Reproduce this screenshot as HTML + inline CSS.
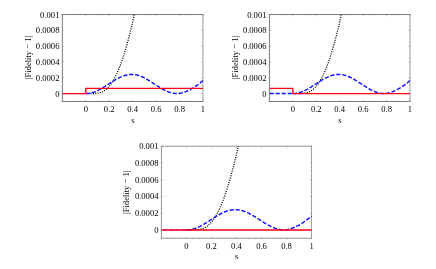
<!DOCTYPE html>
<html><head><meta charset="utf-8"><style>
html,body{margin:0;padding:0;background:#fff;overflow:hidden;}
svg{display:block;}
text{font-family:"Liberation Serif",serif;fill:#000;}
.tx{filter:blur(0.3px);}
.cv{filter:blur(0.3px);}
</style></head><body>
<svg width="436" height="269" viewBox="0 0 436 269">
<rect width="436" height="269" fill="#fff"/>
<g class="fr">
<g style="filter:blur(0.25px)">
<path d="M61.85 14.5 H203.5 M61.85 101.5 H203.5 M62.35 14.5 V101.5" stroke="#7c7c7c" stroke-width="1" fill="none"/>
<path d="M203.0 14.5 V101.5" stroke="#a0a0a0" stroke-width="1" fill="none"/>
<path d="M62.35 101.5 v-1.7 M62.35 14.5 v1.7 M85.79 101.5 v-1.7 M85.79 14.5 v1.7 M109.23 101.5 v-1.7 M109.23 14.5 v1.7 M132.68 101.5 v-1.7 M132.68 14.5 v1.7 M156.12 101.5 v-1.7 M156.12 14.5 v1.7 M179.56 101.5 v-1.7 M179.56 14.5 v1.7 M203.00 101.5 v-1.7 M203.00 14.5 v1.7 M68.21 101.5 v-0.85 M68.21 14.5 v0.85 M74.07 101.5 v-0.85 M74.07 14.5 v0.85 M79.93 101.5 v-0.85 M79.93 14.5 v0.85 M91.65 101.5 v-0.85 M91.65 14.5 v0.85 M97.51 101.5 v-0.85 M97.51 14.5 v0.85 M103.37 101.5 v-0.85 M103.37 14.5 v0.85 M115.09 101.5 v-0.85 M115.09 14.5 v0.85 M120.95 101.5 v-0.85 M120.95 14.5 v0.85 M126.81 101.5 v-0.85 M126.81 14.5 v0.85 M138.54 101.5 v-0.85 M138.54 14.5 v0.85 M144.40 101.5 v-0.85 M144.40 14.5 v0.85 M150.26 101.5 v-0.85 M150.26 14.5 v0.85 M161.98 101.5 v-0.85 M161.98 14.5 v0.85 M167.84 101.5 v-0.85 M167.84 14.5 v0.85 M173.70 101.5 v-0.85 M173.70 14.5 v0.85 M185.42 101.5 v-0.85 M185.42 14.5 v0.85 M191.28 101.5 v-0.85 M191.28 14.5 v0.85 M197.14 101.5 v-0.85 M197.14 14.5 v0.85 M62.35 93.59 h1.7 M203.0 93.59 h-1.7 M62.35 77.77 h1.7 M203.0 77.77 h-1.7 M62.35 61.95 h1.7 M203.0 61.95 h-1.7 M62.35 46.14 h1.7 M203.0 46.14 h-1.7 M62.35 30.32 h1.7 M203.0 30.32 h-1.7 M62.35 14.50 h1.7 M203.0 14.50 h-1.7 M62.35 101.50 h0.85 M203.0 101.50 h-0.85 M62.35 97.55 h0.85 M203.0 97.55 h-0.85 M62.35 89.64 h0.85 M203.0 89.64 h-0.85 M62.35 85.68 h0.85 M203.0 85.68 h-0.85 M62.35 81.73 h0.85 M203.0 81.73 h-0.85 M62.35 73.82 h0.85 M203.0 73.82 h-0.85 M62.35 69.86 h0.85 M203.0 69.86 h-0.85 M62.35 65.91 h0.85 M203.0 65.91 h-0.85 M62.35 58.00 h0.85 M203.0 58.00 h-0.85 M62.35 54.05 h0.85 M203.0 54.05 h-0.85 M62.35 50.09 h0.85 M203.0 50.09 h-0.85 M62.35 42.18 h0.85 M203.0 42.18 h-0.85 M62.35 38.23 h0.85 M203.0 38.23 h-0.85 M62.35 34.27 h0.85 M203.0 34.27 h-0.85 M62.35 26.36 h0.85 M203.0 26.36 h-0.85 M62.35 22.41 h0.85 M203.0 22.41 h-0.85 M62.35 18.45 h0.85 M203.0 18.45 h-0.85" stroke="#7c7c7c" stroke-width="0.5" fill="none"/></g>
<g style="filter:blur(0.25px)">
<path d="M268.9 14.5 H410.5 M268.9 101.5 H410.5 M269.4 14.5 V101.5" stroke="#7c7c7c" stroke-width="1" fill="none"/>
<path d="M410.0 14.5 V101.5" stroke="#a0a0a0" stroke-width="1" fill="none"/>
<path d="M269.40 101.5 v-1.7 M269.40 14.5 v1.7 M292.83 101.5 v-1.7 M292.83 14.5 v1.7 M316.27 101.5 v-1.7 M316.27 14.5 v1.7 M339.70 101.5 v-1.7 M339.70 14.5 v1.7 M363.13 101.5 v-1.7 M363.13 14.5 v1.7 M386.57 101.5 v-1.7 M386.57 14.5 v1.7 M410.00 101.5 v-1.7 M410.00 14.5 v1.7 M275.26 101.5 v-0.85 M275.26 14.5 v0.85 M281.12 101.5 v-0.85 M281.12 14.5 v0.85 M286.97 101.5 v-0.85 M286.97 14.5 v0.85 M298.69 101.5 v-0.85 M298.69 14.5 v0.85 M304.55 101.5 v-0.85 M304.55 14.5 v0.85 M310.41 101.5 v-0.85 M310.41 14.5 v0.85 M322.12 101.5 v-0.85 M322.12 14.5 v0.85 M327.98 101.5 v-0.85 M327.98 14.5 v0.85 M333.84 101.5 v-0.85 M333.84 14.5 v0.85 M345.56 101.5 v-0.85 M345.56 14.5 v0.85 M351.42 101.5 v-0.85 M351.42 14.5 v0.85 M357.27 101.5 v-0.85 M357.27 14.5 v0.85 M368.99 101.5 v-0.85 M368.99 14.5 v0.85 M374.85 101.5 v-0.85 M374.85 14.5 v0.85 M380.71 101.5 v-0.85 M380.71 14.5 v0.85 M392.43 101.5 v-0.85 M392.43 14.5 v0.85 M398.28 101.5 v-0.85 M398.28 14.5 v0.85 M404.14 101.5 v-0.85 M404.14 14.5 v0.85 M269.4 93.59 h1.7 M410.0 93.59 h-1.7 M269.4 77.77 h1.7 M410.0 77.77 h-1.7 M269.4 61.95 h1.7 M410.0 61.95 h-1.7 M269.4 46.14 h1.7 M410.0 46.14 h-1.7 M269.4 30.32 h1.7 M410.0 30.32 h-1.7 M269.4 14.50 h1.7 M410.0 14.50 h-1.7 M269.4 101.50 h0.85 M410.0 101.50 h-0.85 M269.4 97.55 h0.85 M410.0 97.55 h-0.85 M269.4 89.64 h0.85 M410.0 89.64 h-0.85 M269.4 85.68 h0.85 M410.0 85.68 h-0.85 M269.4 81.73 h0.85 M410.0 81.73 h-0.85 M269.4 73.82 h0.85 M410.0 73.82 h-0.85 M269.4 69.86 h0.85 M410.0 69.86 h-0.85 M269.4 65.91 h0.85 M410.0 65.91 h-0.85 M269.4 58.00 h0.85 M410.0 58.00 h-0.85 M269.4 54.05 h0.85 M410.0 54.05 h-0.85 M269.4 50.09 h0.85 M410.0 50.09 h-0.85 M269.4 42.18 h0.85 M410.0 42.18 h-0.85 M269.4 38.23 h0.85 M410.0 38.23 h-0.85 M269.4 34.27 h0.85 M410.0 34.27 h-0.85 M269.4 26.36 h0.85 M410.0 26.36 h-0.85 M269.4 22.41 h0.85 M410.0 22.41 h-0.85 M269.4 18.45 h0.85 M410.0 18.45 h-0.85" stroke="#7c7c7c" stroke-width="0.5" fill="none"/></g>
<g style="filter:blur(0.35px)">
<path d="M160.9 146.2 H312.05 M160.9 238.3 H312.05 M161.4 146.2 V238.3" stroke="#989898" stroke-width="1" fill="none"/>
<path d="M311.55 146.2 V238.3" stroke="#a0a0a0" stroke-width="1" fill="none"/>
<path d="M161.40 238.3 v-1.7 M161.40 146.2 v1.7 M186.43 238.3 v-1.7 M186.43 146.2 v1.7 M211.45 238.3 v-1.7 M211.45 146.2 v1.7 M236.48 238.3 v-1.7 M236.48 146.2 v1.7 M261.50 238.3 v-1.7 M261.50 146.2 v1.7 M286.53 238.3 v-1.7 M286.53 146.2 v1.7 M311.55 238.3 v-1.7 M311.55 146.2 v1.7 M167.66 238.3 v-0.85 M167.66 146.2 v0.85 M173.91 238.3 v-0.85 M173.91 146.2 v0.85 M180.17 238.3 v-0.85 M180.17 146.2 v0.85 M192.68 238.3 v-0.85 M192.68 146.2 v0.85 M198.94 238.3 v-0.85 M198.94 146.2 v0.85 M205.19 238.3 v-0.85 M205.19 146.2 v0.85 M217.71 238.3 v-0.85 M217.71 146.2 v0.85 M223.96 238.3 v-0.85 M223.96 146.2 v0.85 M230.22 238.3 v-0.85 M230.22 146.2 v0.85 M242.73 238.3 v-0.85 M242.73 146.2 v0.85 M248.99 238.3 v-0.85 M248.99 146.2 v0.85 M255.24 238.3 v-0.85 M255.24 146.2 v0.85 M267.76 238.3 v-0.85 M267.76 146.2 v0.85 M274.01 238.3 v-0.85 M274.01 146.2 v0.85 M280.27 238.3 v-0.85 M280.27 146.2 v0.85 M292.78 238.3 v-0.85 M292.78 146.2 v0.85 M299.04 238.3 v-0.85 M299.04 146.2 v0.85 M305.29 238.3 v-0.85 M305.29 146.2 v0.85 M161.4 229.93 h1.7 M311.55 229.93 h-1.7 M161.4 213.18 h1.7 M311.55 213.18 h-1.7 M161.4 196.44 h1.7 M311.55 196.44 h-1.7 M161.4 179.69 h1.7 M311.55 179.69 h-1.7 M161.4 162.95 h1.7 M311.55 162.95 h-1.7 M161.4 146.20 h1.7 M311.55 146.20 h-1.7 M161.4 238.30 h0.85 M311.55 238.30 h-0.85 M161.4 234.11 h0.85 M311.55 234.11 h-0.85 M161.4 225.74 h0.85 M311.55 225.74 h-0.85 M161.4 221.55 h0.85 M311.55 221.55 h-0.85 M161.4 217.37 h0.85 M311.55 217.37 h-0.85 M161.4 209.00 h0.85 M311.55 209.00 h-0.85 M161.4 204.81 h0.85 M311.55 204.81 h-0.85 M161.4 200.62 h0.85 M311.55 200.62 h-0.85 M161.4 192.25 h0.85 M311.55 192.25 h-0.85 M161.4 188.06 h0.85 M311.55 188.06 h-0.85 M161.4 183.88 h0.85 M311.55 183.88 h-0.85 M161.4 175.50 h0.85 M311.55 175.50 h-0.85 M161.4 171.32 h0.85 M311.55 171.32 h-0.85 M161.4 167.13 h0.85 M311.55 167.13 h-0.85 M161.4 158.76 h0.85 M311.55 158.76 h-0.85 M161.4 154.57 h0.85 M311.55 154.57 h-0.85 M161.4 150.39 h0.85 M311.55 150.39 h-0.85" stroke="#7c7c7c" stroke-width="0.5" fill="none"/></g>
</g>
<g class="tx">
<text transform="translate(59.45 96.64) scale(0.935 1)" font-size="9.2" text-anchor="end">0</text>
<text transform="translate(59.45 80.82) scale(0.935 1)" font-size="9.2" text-anchor="end">0.0002</text>
<text transform="translate(59.45 65.00) scale(0.935 1)" font-size="9.2" text-anchor="end">0.0004</text>
<text transform="translate(59.45 49.19) scale(0.935 1)" font-size="9.2" text-anchor="end">0.0006</text>
<text transform="translate(59.45 33.37) scale(0.935 1)" font-size="9.2" text-anchor="end">0.0008</text>
<text transform="translate(59.45 17.55) scale(0.935 1)" font-size="9.2" text-anchor="end">0.001</text>
<text transform="translate(85.79 111.85) scale(0.935 1)" font-size="9.2" text-anchor="middle">0</text>
<text transform="translate(109.23 111.85) scale(0.935 1)" font-size="9.2" text-anchor="middle">0.2</text>
<text transform="translate(132.68 111.85) scale(0.935 1)" font-size="9.2" text-anchor="middle">0.4</text>
<text transform="translate(156.12 111.85) scale(0.935 1)" font-size="9.2" text-anchor="middle">0.6</text>
<text transform="translate(179.56 111.85) scale(0.935 1)" font-size="9.2" text-anchor="middle">0.8</text>
<text transform="translate(203.00 111.85) scale(0.935 1)" font-size="9.2" text-anchor="middle">1</text>
<text transform="translate(132.98 122.60) scale(0.935 1)" font-size="9.2" text-anchor="middle">s</text>
<text transform="translate(30.80 57.50) rotate(-90) scale(0.935 1)" font-size="9.2" text-anchor="middle">|Fidelity − 1|</text>
<text transform="translate(266.50 96.64) scale(0.935 1)" font-size="9.2" text-anchor="end">0</text>
<text transform="translate(266.50 80.82) scale(0.935 1)" font-size="9.2" text-anchor="end">0.0002</text>
<text transform="translate(266.50 65.00) scale(0.935 1)" font-size="9.2" text-anchor="end">0.0004</text>
<text transform="translate(266.50 49.19) scale(0.935 1)" font-size="9.2" text-anchor="end">0.0006</text>
<text transform="translate(266.50 33.37) scale(0.935 1)" font-size="9.2" text-anchor="end">0.0008</text>
<text transform="translate(266.50 17.55) scale(0.935 1)" font-size="9.2" text-anchor="end">0.001</text>
<text transform="translate(292.83 111.85) scale(0.935 1)" font-size="9.2" text-anchor="middle">0</text>
<text transform="translate(316.27 111.85) scale(0.935 1)" font-size="9.2" text-anchor="middle">0.2</text>
<text transform="translate(339.70 111.85) scale(0.935 1)" font-size="9.2" text-anchor="middle">0.4</text>
<text transform="translate(363.13 111.85) scale(0.935 1)" font-size="9.2" text-anchor="middle">0.6</text>
<text transform="translate(386.57 111.85) scale(0.935 1)" font-size="9.2" text-anchor="middle">0.8</text>
<text transform="translate(410.00 111.85) scale(0.935 1)" font-size="9.2" text-anchor="middle">1</text>
<text transform="translate(340.00 122.60) scale(0.935 1)" font-size="9.2" text-anchor="middle">s</text>
<text transform="translate(237.80 57.50) rotate(-90) scale(0.935 1)" font-size="9.2" text-anchor="middle">|Fidelity − 1|</text>
<text transform="translate(158.50 232.98) scale(0.935 1)" font-size="9.2" text-anchor="end">0</text>
<text transform="translate(158.50 216.23) scale(0.935 1)" font-size="9.2" text-anchor="end">0.0002</text>
<text transform="translate(158.50 199.49) scale(0.935 1)" font-size="9.2" text-anchor="end">0.0004</text>
<text transform="translate(158.50 182.74) scale(0.935 1)" font-size="9.2" text-anchor="end">0.0006</text>
<text transform="translate(158.50 166.00) scale(0.935 1)" font-size="9.2" text-anchor="end">0.0008</text>
<text transform="translate(158.50 149.25) scale(0.935 1)" font-size="9.2" text-anchor="end">0.001</text>
<text transform="translate(186.43 248.65) scale(0.935 1)" font-size="9.2" text-anchor="middle">0</text>
<text transform="translate(211.45 248.65) scale(0.935 1)" font-size="9.2" text-anchor="middle">0.2</text>
<text transform="translate(236.48 248.65) scale(0.935 1)" font-size="9.2" text-anchor="middle">0.4</text>
<text transform="translate(261.50 248.65) scale(0.935 1)" font-size="9.2" text-anchor="middle">0.6</text>
<text transform="translate(286.53 248.65) scale(0.935 1)" font-size="9.2" text-anchor="middle">0.8</text>
<text transform="translate(311.55 248.65) scale(0.935 1)" font-size="9.2" text-anchor="middle">1</text>
<text transform="translate(236.78 259.40) scale(0.935 1)" font-size="9.2" text-anchor="middle">s</text>
<text transform="translate(128.80 192.25) rotate(-90) scale(0.935 1)" font-size="9.2" text-anchor="middle">|Fidelity − 1|</text>
</g>
<g class="cv">
<clipPath id="c62"><rect x="62.35" y="14.5" width="140.65" height="87.00"/></clipPath>
<g clip-path="url(#c62)" fill="none">
<polyline points="85.79,93.59 86.04,93.59 86.28,93.59 86.52,93.59 86.77,93.59 87.01,93.59 87.26,93.59 87.50,93.59 87.75,93.59 87.99,93.59 88.23,93.59 88.48,93.59 88.72,93.59 88.97,93.59 89.21,93.59 89.45,93.59 89.70,93.59 89.94,93.59 90.19,93.59 90.43,93.59 90.68,93.59 90.92,93.59 91.16,93.58 91.41,93.58 91.65,93.58 91.90,93.58 92.14,93.57 92.38,93.57 92.63,93.57 92.87,93.56 93.12,93.55 93.36,93.55 93.61,93.54 93.85,93.53 94.09,93.52 94.34,93.51 94.58,93.50 94.83,93.48 95.07,93.47 95.31,93.45 95.56,93.43 95.80,93.41 96.05,93.38 96.29,93.36 96.54,93.33 96.78,93.30 97.02,93.27 97.27,93.24 97.51,93.20 97.76,93.16 98.00,93.12 98.25,93.07 98.49,93.02 98.73,92.97 98.98,92.92 99.22,92.86 99.47,92.80 99.71,92.73 99.95,92.66 100.20,92.59 100.44,92.51 100.69,92.43 100.93,92.35 101.18,92.26 101.42,92.16 101.66,92.06 101.91,91.96 102.15,91.85 102.40,91.74 102.64,91.62 102.88,91.50 103.13,91.37 103.37,91.24 103.62,91.10 103.86,90.96 104.11,90.81 104.35,90.66 104.59,90.49 104.84,90.33 105.08,90.16 105.33,89.98 105.57,89.80 105.81,89.61 106.06,89.41 106.30,89.21 106.55,89.00 106.79,88.78 107.04,88.56 107.28,88.33 107.52,88.10 107.77,87.86 108.01,87.61 108.26,87.35 108.50,87.09 108.74,86.82 108.99,86.54 109.23,86.26 109.48,85.97 109.72,85.67 109.97,85.37 110.21,85.05 110.45,84.73 110.70,84.41 110.94,84.07 111.19,83.73 111.43,83.38 111.68,83.02 111.92,82.66 112.16,82.28 112.41,81.90 112.65,81.51 112.90,81.12 113.14,80.71 113.38,80.30 113.63,79.88 113.87,79.45 114.12,79.02 114.36,78.57 114.61,78.12 114.85,77.66 115.09,77.19 115.34,76.72 115.58,76.23 115.83,75.74 116.07,75.24 116.31,74.73 116.56,74.21 116.80,73.69 117.05,73.15 117.29,72.61 117.54,72.06 117.78,71.50 118.02,70.93 118.27,70.36 118.51,69.77 118.76,69.18 119.00,68.58 119.24,67.97 119.49,67.35 119.73,66.73 119.98,66.10 120.22,65.45 120.47,64.80 120.71,64.14 120.95,63.48 121.20,62.80 121.44,62.12 121.69,61.42 121.93,60.72 122.18,60.02 122.42,59.30 122.66,58.57 122.91,57.84 123.15,57.10 123.40,56.35 123.64,55.59 123.88,54.82 124.13,54.05 124.37,53.26 124.62,52.47 124.86,51.67 125.11,50.86 125.35,50.05 125.59,49.22 125.84,48.39 126.08,47.55 126.33,46.70 126.57,45.85 126.81,44.98 127.06,44.11 127.30,43.23 127.55,42.34 127.79,41.44 128.04,40.54 128.28,39.62 128.52,38.70 128.77,37.78 129.01,36.84 129.26,35.90 129.50,34.95 129.74,33.99 129.99,33.02 130.23,32.04 130.48,31.06 130.72,30.07 130.97,29.07 131.21,28.07 131.45,27.06 131.70,26.04 131.94,25.01 132.19,23.97 132.43,22.93 132.68,21.88 132.92,20.82 133.16,19.76 133.41,18.68 133.65,17.61 133.90,16.52 134.14,15.43 134.38,14.32 134.63,13.22 134.87,12.10 135.12,10.98 135.36,9.85 135.61,8.71 135.85,7.57 136.09,6.42 136.34,5.26 136.58,4.10 136.83,2.93 137.07,1.75 137.31,0.57 137.56,-0.63 137.80,-1.82 138.05,-3.03 138.29,-4.24 138.54,-5.46 138.78,-6.68 139.02,-7.91 139.27,-9.15 139.51,-10.39 139.76,-11.64 140.00,-12.90 140.24,-14.16 140.49,-15.43 140.73,-16.70 140.98,-17.98 141.22,-19.27 141.47,-20.56 141.71,-21.86 141.95,-23.17 142.20,-24.48 142.44,-25.80 142.69,-27.12 142.93,-28.45 143.17,-29.78 143.42,-31.12 143.66,-32.47 143.91,-33.82 144.15,-35.18 144.40,-36.54" stroke="#000" stroke-width="1.25" stroke-dasharray="1.05 1.3"/>
<path d="M85.79 93.59 H62.35" stroke="#1010ff" stroke-width="0.9" stroke-dasharray="4.2 1.8" stroke-dashoffset="-1"/>
<polyline points="85.79,93.59 86.28,93.59 86.77,93.57 87.26,93.54 87.75,93.51 88.23,93.46 88.72,93.40 89.21,93.33 89.70,93.25 90.19,93.16 90.68,93.06 91.16,92.95 91.65,92.83 92.14,92.70 92.63,92.56 93.12,92.41 93.61,92.25 94.09,92.08 94.58,91.90 95.07,91.71 95.56,91.52 96.05,91.32 96.54,91.10 97.02,90.88 97.51,90.66 98.00,90.42 98.49,90.18 98.98,89.93 99.47,89.68 99.95,89.41 100.44,89.15 100.93,88.87 101.42,88.59 101.91,88.31 102.40,88.02 102.88,87.73 103.37,87.43 103.86,87.13 104.35,86.82 104.84,86.51 105.33,86.20 105.81,85.89 106.30,85.57 106.79,85.26 107.28,84.94 107.77,84.62 108.26,84.30 108.74,83.98 109.23,83.66 109.72,83.33 110.21,83.02 110.70,82.70 111.19,82.38 111.68,82.07 112.16,81.75 112.65,81.44 113.14,81.13 113.63,80.83 114.12,80.53 114.61,80.23 115.09,79.94 115.58,79.65 116.07,79.37 116.56,79.09 117.05,78.82 117.54,78.55 118.02,78.29 118.51,78.04 119.00,77.79 119.49,77.55 119.98,77.32 120.47,77.09 120.95,76.88 121.44,76.67 121.93,76.47 122.42,76.27 122.91,76.09 123.40,75.92 123.88,75.75 124.37,75.59 124.86,75.45 125.35,75.31 125.84,75.18 126.33,75.06 126.81,74.95 127.30,74.86 127.79,74.77 128.28,74.69 128.77,74.63 129.26,74.57 129.74,74.53 130.23,74.49 130.72,74.47 131.21,74.45 131.70,74.45 132.19,74.46 132.68,74.48 133.16,74.51 133.65,74.55 134.14,74.60 134.63,74.66 135.12,74.73 135.61,74.82 136.09,74.91 136.58,75.01 137.07,75.13 137.56,75.25 138.05,75.38 138.54,75.53 139.02,75.68 139.51,75.84 140.00,76.01 140.49,76.19 140.98,76.38 141.47,76.58 141.95,76.78 142.44,77.00 142.93,77.22 143.42,77.45 143.91,77.69 144.40,77.93 144.88,78.18 145.37,78.44 145.86,78.70 146.35,78.97 146.84,79.25 147.33,79.53 147.81,79.81 148.30,80.10 148.79,80.40 149.28,80.70 149.77,81.00 150.26,81.31 150.74,81.62 151.23,81.93 151.72,82.24 152.21,82.56 152.70,82.88 153.19,83.19 153.67,83.51 154.16,83.83 154.65,84.16 155.14,84.48 155.63,84.80 156.12,85.12 156.61,85.43 157.09,85.75 157.58,86.06 158.07,86.38 158.56,86.69 159.05,86.99 159.54,87.30 160.02,87.60 160.51,87.89 161.00,88.18 161.49,88.47 161.98,88.75 162.47,89.03 162.95,89.30 163.44,89.56 163.93,89.82 164.42,90.07 164.91,90.32 165.40,90.55 165.88,90.79 166.37,91.01 166.86,91.22 167.35,91.43 167.84,91.63 168.33,91.82 168.81,92.00 169.30,92.17 169.79,92.34 170.28,92.49 170.77,92.64 171.26,92.77 171.74,92.90 172.23,93.01 172.72,93.12 173.21,93.21 173.70,93.29 174.19,93.37 174.67,93.43 175.16,93.49 175.65,93.53 176.14,93.56 176.63,93.58 177.12,93.59 177.60,93.59 178.09,93.56 178.58,93.51 179.07,93.46 179.56,93.39 180.05,93.30 180.54,93.21 181.02,93.11 181.51,92.99 182.00,92.87 182.49,92.74 182.98,92.60 183.47,92.45 183.95,92.29 184.44,92.12 184.93,91.94 185.42,91.76 185.91,91.57 186.40,91.37 186.88,91.16 187.37,90.94 187.86,90.72 188.35,90.49 188.84,90.26 189.33,90.01 189.81,89.76 190.30,89.50 190.79,89.24 191.28,88.96 191.77,88.69 192.26,88.40 192.74,88.11 193.23,87.81 193.72,87.50 194.21,87.19 194.70,86.87 195.19,86.55 195.67,86.22 196.16,85.88 196.65,85.54 197.14,85.19 197.63,84.84 198.12,84.48 198.60,84.11 199.09,83.73 199.58,83.36 200.07,82.97 200.56,82.58 201.05,82.18 201.53,81.78 202.02,81.37 202.51,80.96 203.00,80.54" stroke="#1010ff" stroke-width="1.45" stroke-dasharray="4.2 1.8"/>
<path d="M62.35 93.59 H85.79 V88.37 H203.00" stroke="#ff0018" stroke-width="1.4"/>
</g>
<clipPath id="c269"><rect x="269.4" y="14.5" width="140.60" height="87.00"/></clipPath>
<g clip-path="url(#c269)" fill="none">
<polyline points="292.83,93.59 293.08,93.59 293.32,93.59 293.57,93.59 293.81,93.59 294.05,93.59 294.30,93.59 294.54,93.59 294.79,93.59 295.03,93.59 295.27,93.59 295.52,93.59 295.76,93.59 296.01,93.59 296.25,93.59 296.49,93.59 296.74,93.59 296.98,93.59 297.23,93.59 297.47,93.59 297.72,93.59 297.96,93.59 298.20,93.58 298.45,93.58 298.69,93.58 298.94,93.58 299.18,93.57 299.42,93.57 299.67,93.57 299.91,93.56 300.16,93.55 300.40,93.55 300.64,93.54 300.89,93.53 301.13,93.52 301.38,93.51 301.62,93.50 301.86,93.48 302.11,93.47 302.35,93.45 302.60,93.43 302.84,93.41 303.09,93.38 303.33,93.36 303.57,93.33 303.82,93.30 304.06,93.27 304.31,93.24 304.55,93.20 304.79,93.16 305.04,93.12 305.28,93.07 305.53,93.02 305.77,92.97 306.01,92.92 306.26,92.86 306.50,92.80 306.75,92.73 306.99,92.66 307.24,92.59 307.48,92.51 307.72,92.43 307.97,92.35 308.21,92.26 308.46,92.16 308.70,92.06 308.94,91.96 309.19,91.85 309.43,91.74 309.68,91.62 309.92,91.50 310.16,91.37 310.41,91.24 310.65,91.10 310.90,90.96 311.14,90.81 311.38,90.66 311.63,90.49 311.87,90.33 312.12,90.16 312.36,89.98 312.61,89.80 312.85,89.61 313.09,89.41 313.34,89.21 313.58,89.00 313.83,88.78 314.07,88.56 314.31,88.33 314.56,88.10 314.80,87.86 315.05,87.61 315.29,87.35 315.53,87.09 315.78,86.82 316.02,86.54 316.27,86.26 316.51,85.97 316.75,85.67 317.00,85.37 317.24,85.05 317.49,84.73 317.73,84.41 317.98,84.07 318.22,83.73 318.46,83.38 318.71,83.02 318.95,82.66 319.20,82.28 319.44,81.90 319.68,81.51 319.93,81.12 320.17,80.71 320.42,80.30 320.66,79.88 320.90,79.45 321.15,79.02 321.39,78.57 321.64,78.12 321.88,77.66 322.12,77.19 322.37,76.72 322.61,76.23 322.86,75.74 323.10,75.24 323.35,74.73 323.59,74.21 323.83,73.69 324.08,73.15 324.32,72.61 324.57,72.06 324.81,71.50 325.05,70.93 325.30,70.36 325.54,69.77 325.79,69.18 326.03,68.58 326.27,67.97 326.52,67.35 326.76,66.73 327.01,66.10 327.25,65.45 327.50,64.80 327.74,64.14 327.98,63.48 328.23,62.80 328.47,62.12 328.72,61.42 328.96,60.72 329.20,60.02 329.45,59.30 329.69,58.57 329.94,57.84 330.18,57.10 330.42,56.35 330.67,55.59 330.91,54.82 331.16,54.05 331.40,53.26 331.64,52.47 331.89,51.67 332.13,50.86 332.38,50.05 332.62,49.22 332.87,48.39 333.11,47.55 333.35,46.70 333.60,45.85 333.84,44.98 334.09,44.11 334.33,43.23 334.57,42.34 334.82,41.44 335.06,40.54 335.31,39.62 335.55,38.70 335.79,37.78 336.04,36.84 336.28,35.90 336.53,34.95 336.77,33.99 337.01,33.02 337.26,32.04 337.50,31.06 337.75,30.07 337.99,29.07 338.24,28.07 338.48,27.06 338.72,26.04 338.97,25.01 339.21,23.97 339.46,22.93 339.70,21.88 339.94,20.82 340.19,19.76 340.43,18.68 340.68,17.61 340.92,16.52 341.16,15.43 341.41,14.32 341.65,13.22 341.90,12.10 342.14,10.98 342.39,9.85 342.63,8.71 342.87,7.57 343.12,6.42 343.36,5.26 343.61,4.10 343.85,2.93 344.09,1.75 344.34,0.57 344.58,-0.63 344.83,-1.82 345.07,-3.03 345.31,-4.24 345.56,-5.46 345.80,-6.68 346.05,-7.91 346.29,-9.15 346.53,-10.39 346.78,-11.64 347.02,-12.90 347.27,-14.16 347.51,-15.43 347.76,-16.70 348.00,-17.98 348.24,-19.27 348.49,-20.56 348.73,-21.86 348.98,-23.17 349.22,-24.48 349.46,-25.80 349.71,-27.12 349.95,-28.45 350.20,-29.78 350.44,-31.12 350.68,-32.47 350.93,-33.82 351.17,-35.18 351.42,-36.54" stroke="#000" stroke-width="1.25" stroke-dasharray="1.05 1.3"/>
<path d="M292.83 93.59 H269.40" stroke="#1010ff" stroke-width="1.45" stroke-dasharray="4.2 1.8" stroke-dashoffset="-1"/>
<polyline points="292.83,93.59 293.32,93.59 293.81,93.57 294.30,93.54 294.79,93.51 295.27,93.46 295.76,93.40 296.25,93.33 296.74,93.25 297.23,93.16 297.72,93.06 298.20,92.95 298.69,92.83 299.18,92.70 299.67,92.56 300.16,92.41 300.64,92.25 301.13,92.08 301.62,91.90 302.11,91.71 302.60,91.52 303.09,91.32 303.57,91.10 304.06,90.88 304.55,90.66 305.04,90.42 305.53,90.18 306.01,89.93 306.50,89.68 306.99,89.41 307.48,89.15 307.97,88.87 308.46,88.59 308.94,88.31 309.43,88.02 309.92,87.73 310.41,87.43 310.90,87.13 311.38,86.82 311.87,86.51 312.36,86.20 312.85,85.89 313.34,85.57 313.83,85.26 314.31,84.94 314.80,84.62 315.29,84.30 315.78,83.98 316.27,83.66 316.75,83.33 317.24,83.02 317.73,82.70 318.22,82.38 318.71,82.07 319.20,81.75 319.68,81.44 320.17,81.13 320.66,80.83 321.15,80.53 321.64,80.23 322.12,79.94 322.61,79.65 323.10,79.37 323.59,79.09 324.08,78.82 324.57,78.55 325.05,78.29 325.54,78.04 326.03,77.79 326.52,77.55 327.01,77.32 327.50,77.09 327.98,76.88 328.47,76.67 328.96,76.47 329.45,76.27 329.94,76.09 330.42,75.92 330.91,75.75 331.40,75.59 331.89,75.45 332.38,75.31 332.87,75.18 333.35,75.06 333.84,74.95 334.33,74.86 334.82,74.77 335.31,74.69 335.79,74.63 336.28,74.57 336.77,74.53 337.26,74.49 337.75,74.47 338.24,74.45 338.72,74.45 339.21,74.46 339.70,74.48 340.19,74.51 340.68,74.55 341.16,74.60 341.65,74.66 342.14,74.73 342.63,74.82 343.12,74.91 343.61,75.01 344.09,75.13 344.58,75.25 345.07,75.38 345.56,75.53 346.05,75.68 346.53,75.84 347.02,76.01 347.51,76.19 348.00,76.38 348.49,76.58 348.98,76.78 349.46,77.00 349.95,77.22 350.44,77.45 350.93,77.69 351.42,77.93 351.90,78.18 352.39,78.44 352.88,78.70 353.37,78.97 353.86,79.25 354.35,79.53 354.83,79.81 355.32,80.10 355.81,80.40 356.30,80.70 356.79,81.00 357.27,81.31 357.76,81.62 358.25,81.93 358.74,82.24 359.23,82.56 359.72,82.88 360.20,83.19 360.69,83.51 361.18,83.83 361.67,84.16 362.16,84.48 362.65,84.80 363.13,85.12 363.62,85.43 364.11,85.75 364.60,86.06 365.09,86.38 365.57,86.69 366.06,86.99 366.55,87.30 367.04,87.60 367.53,87.89 368.02,88.18 368.50,88.47 368.99,88.75 369.48,89.03 369.97,89.30 370.46,89.56 370.94,89.82 371.43,90.07 371.92,90.32 372.41,90.55 372.90,90.79 373.39,91.01 373.87,91.22 374.36,91.43 374.85,91.63 375.34,91.82 375.83,92.00 376.31,92.17 376.80,92.34 377.29,92.49 377.78,92.64 378.27,92.77 378.76,92.90 379.24,93.01 379.73,93.12 380.22,93.21 380.71,93.29 381.20,93.37 381.68,93.43 382.17,93.49 382.66,93.53 383.15,93.56 383.64,93.58 384.13,93.59 384.61,93.59 385.10,93.56 385.59,93.51 386.08,93.46 386.57,93.39 387.05,93.30 387.54,93.21 388.03,93.11 388.52,92.99 389.01,92.87 389.50,92.74 389.98,92.60 390.47,92.45 390.96,92.29 391.45,92.12 391.94,91.94 392.43,91.76 392.91,91.57 393.40,91.37 393.89,91.16 394.38,90.94 394.87,90.72 395.35,90.49 395.84,90.26 396.33,90.01 396.82,89.76 397.31,89.50 397.80,89.24 398.28,88.96 398.77,88.69 399.26,88.40 399.75,88.11 400.24,87.81 400.72,87.50 401.21,87.19 401.70,86.87 402.19,86.55 402.68,86.22 403.17,85.88 403.65,85.54 404.14,85.19 404.63,84.84 405.12,84.48 405.61,84.11 406.09,83.73 406.58,83.36 407.07,82.97 407.56,82.58 408.05,82.18 408.54,81.78 409.02,81.37 409.51,80.96 410.00,80.54" stroke="#1010ff" stroke-width="1.45" stroke-dasharray="4.2 1.8"/>
<path d="M269.40 88.37 H292.83 V93.59 H410.00" stroke="#ff0018" stroke-width="1.4"/>
</g>
<clipPath id="c161"><rect x="161.4" y="146.2" width="150.15" height="92.10"/></clipPath>
<g clip-path="url(#c161)" fill="none">
<polyline points="186.43,229.93 186.69,229.93 186.95,229.93 187.21,229.93 187.47,229.93 187.73,229.93 187.99,229.93 188.25,229.93 188.51,229.93 188.77,229.93 189.03,229.93 189.29,229.93 189.55,229.93 189.81,229.93 190.07,229.93 190.34,229.93 190.60,229.93 190.86,229.93 191.12,229.93 191.38,229.92 191.64,229.92 191.90,229.92 192.16,229.92 192.42,229.92 192.68,229.92 192.94,229.91 193.20,229.91 193.46,229.91 193.72,229.90 193.98,229.89 194.25,229.89 194.51,229.88 194.77,229.87 195.03,229.86 195.29,229.85 195.55,229.84 195.81,229.83 196.07,229.81 196.33,229.79 196.59,229.78 196.85,229.76 197.11,229.73 197.37,229.71 197.63,229.68 197.89,229.65 198.16,229.62 198.42,229.59 198.68,229.55 198.94,229.51 199.20,229.47 199.46,229.43 199.72,229.38 199.98,229.33 200.24,229.27 200.50,229.21 200.76,229.15 201.02,229.09 201.28,229.02 201.54,228.94 201.80,228.87 202.07,228.79 202.33,228.70 202.59,228.61 202.85,228.51 203.11,228.41 203.37,228.31 203.63,228.20 203.89,228.09 204.15,227.97 204.41,227.84 204.67,227.71 204.93,227.58 205.19,227.44 205.45,227.29 205.72,227.14 205.98,226.98 206.24,226.82 206.50,226.65 206.76,226.47 207.02,226.29 207.28,226.10 207.54,225.91 207.80,225.71 208.06,225.50 208.32,225.29 208.58,225.06 208.84,224.84 209.10,224.60 209.36,224.36 209.63,224.11 209.89,223.86 210.15,223.59 210.41,223.32 210.67,223.04 210.93,222.76 211.19,222.47 211.45,222.17 211.71,221.86 211.97,221.54 212.23,221.22 212.49,220.89 212.75,220.55 213.01,220.21 213.27,219.85 213.54,219.49 213.80,219.12 214.06,218.74 214.32,218.35 214.58,217.96 214.84,217.55 215.10,217.14 215.36,216.72 215.62,216.30 215.88,215.86 216.14,215.41 216.40,214.96 216.66,214.50 216.92,214.03 217.18,213.55 217.45,213.06 217.71,212.57 217.97,212.06 218.23,211.55 218.49,211.03 218.75,210.50 219.01,209.96 219.27,209.41 219.53,208.86 219.79,208.29 220.05,207.72 220.31,207.13 220.57,206.54 220.83,205.94 221.10,205.33 221.36,204.71 221.62,204.09 221.88,203.45 222.14,202.81 222.40,202.15 222.66,201.49 222.92,200.82 223.18,200.14 223.44,199.45 223.70,198.75 223.96,198.05 224.22,197.33 224.48,196.61 224.74,195.88 225.01,195.13 225.27,194.38 225.53,193.62 225.79,192.86 226.05,192.08 226.31,191.29 226.57,190.50 226.83,189.70 227.09,188.88 227.35,188.06 227.61,187.23 227.87,186.40 228.13,185.55 228.39,184.69 228.65,183.83 228.92,182.96 229.18,182.08 229.44,181.19 229.70,180.29 229.96,179.38 230.22,178.47 230.48,177.54 230.74,176.61 231.00,175.67 231.26,174.72 231.52,173.76 231.78,172.80 232.04,171.82 232.30,170.84 232.56,169.85 232.83,168.85 233.09,167.84 233.35,166.83 233.61,165.80 233.87,164.77 234.13,163.73 234.39,162.68 234.65,161.63 234.91,160.56 235.17,159.49 235.43,158.41 235.69,157.32 235.95,156.23 236.21,155.12 236.48,154.01 236.74,152.89 237.00,151.77 237.26,150.63 237.52,149.49 237.78,148.34 238.04,147.18 238.30,146.01 238.56,144.84 238.82,143.66 239.08,142.47 239.34,141.28 239.60,140.07 239.86,138.86 240.12,137.65 240.39,136.42 240.65,135.19 240.91,133.95 241.17,132.70 241.43,131.45 241.69,130.19 241.95,128.92 242.21,127.65 242.47,126.36 242.73,125.07 242.99,123.78 243.25,122.48 243.51,121.17 243.77,119.85 244.03,118.53 244.30,117.20 244.56,115.86 244.82,114.52 245.08,113.17 245.34,111.81 245.60,110.45 245.86,109.08 246.12,107.71 246.38,106.32 246.64,104.94 246.90,103.54 247.16,102.14 247.42,100.73 247.68,99.32 247.94,97.90 248.21,96.48 248.47,95.05 248.73,93.61 248.99,92.16" stroke="#000" stroke-width="1.25" stroke-dasharray="1.05 1.3"/>
<path d="M186.43 229.93 H161.40" stroke="#1010ff" stroke-width="0.9" stroke-dasharray="4.2 1.8" stroke-dashoffset="-1"/>
<polyline points="186.43,229.93 186.95,229.92 187.47,229.90 187.99,229.88 188.51,229.84 189.03,229.79 189.55,229.72 190.07,229.65 190.60,229.57 191.12,229.47 191.64,229.36 192.16,229.25 192.68,229.12 193.20,228.98 193.72,228.83 194.25,228.67 194.77,228.50 195.29,228.33 195.81,228.14 196.33,227.94 196.85,227.73 197.37,227.52 197.89,227.30 198.42,227.06 198.94,226.82 199.46,226.57 199.98,226.32 200.50,226.05 201.02,225.78 201.54,225.51 202.07,225.22 202.59,224.93 203.11,224.64 203.63,224.34 204.15,224.03 204.67,223.72 205.19,223.40 205.72,223.08 206.24,222.76 206.76,222.43 207.28,222.11 207.80,221.77 208.32,221.44 208.84,221.10 209.36,220.77 209.89,220.43 210.41,220.09 210.93,219.75 211.45,219.41 211.97,219.07 212.49,218.73 213.01,218.39 213.54,218.06 214.06,217.73 214.58,217.39 215.10,217.07 215.62,216.74 216.14,216.42 216.66,216.10 217.18,215.79 217.71,215.48 218.23,215.17 218.75,214.87 219.27,214.58 219.79,214.29 220.31,214.01 220.83,213.73 221.36,213.46 221.88,213.20 222.40,212.95 222.92,212.70 223.44,212.46 223.96,212.23 224.48,212.01 225.01,211.80 225.53,211.60 226.05,211.40 226.57,211.22 227.09,211.04 227.61,210.87 228.13,210.72 228.65,210.57 229.18,210.44 229.70,210.31 230.22,210.20 230.74,210.10 231.26,210.00 231.78,209.92 232.30,209.85 232.83,209.79 233.35,209.74 233.87,209.71 234.39,209.68 234.91,209.67 235.43,209.67 235.95,209.67 236.48,209.69 237.00,209.73 237.52,209.77 238.04,209.82 238.56,209.89 239.08,209.97 239.60,210.05 240.12,210.15 240.65,210.26 241.17,210.38 241.69,210.51 242.21,210.65 242.73,210.80 243.25,210.97 243.77,211.14 244.30,211.32 244.82,211.51 245.34,211.71 245.86,211.92 246.38,212.14 246.90,212.36 247.42,212.60 247.94,212.84 248.47,213.09 248.99,213.35 249.51,213.61 250.03,213.89 250.55,214.17 251.07,214.45 251.59,214.74 252.12,215.04 252.64,215.34 253.16,215.65 253.68,215.96 254.20,216.28 254.72,216.60 255.24,216.92 255.77,217.25 256.29,217.58 256.81,217.91 257.33,218.25 257.85,218.58 258.37,218.92 258.89,219.26 259.41,219.60 259.94,219.94 260.46,220.28 260.98,220.62 261.50,220.96 262.02,221.29 262.54,221.63 263.06,221.96 263.59,222.29 264.11,222.62 264.63,222.94 265.15,223.26 265.67,223.58 266.19,223.89 266.71,224.20 267.23,224.50 267.76,224.80 268.28,225.10 268.80,225.38 269.32,225.66 269.84,225.94 270.36,226.20 270.88,226.46 271.41,226.71 271.93,226.96 272.45,227.19 272.97,227.42 273.49,227.64 274.01,227.85 274.53,228.05 275.06,228.24 275.58,228.43 276.10,228.60 276.62,228.76 277.14,228.92 277.66,229.06 278.18,229.19 278.70,229.31 279.23,229.42 279.75,229.52 280.27,229.61 280.79,229.69 281.31,229.76 281.83,229.82 282.35,229.86 282.88,229.89 283.40,229.92 283.92,229.93 284.44,229.92 284.96,229.89 285.48,229.85 286.00,229.79 286.53,229.71 287.05,229.62 287.57,229.53 288.09,229.42 288.61,229.30 289.13,229.17 289.65,229.02 290.17,228.87 290.70,228.72 291.22,228.55 291.74,228.37 292.26,228.18 292.78,227.99 293.30,227.78 293.82,227.57 294.35,227.35 294.87,227.13 295.39,226.89 295.91,226.65 296.43,226.40 296.95,226.14 297.47,225.87 297.99,225.60 298.52,225.32 299.04,225.03 299.56,224.73 300.08,224.43 300.60,224.12 301.12,223.81 301.64,223.48 302.17,223.15 302.69,222.82 303.21,222.47 303.73,222.12 304.25,221.77 304.77,221.40 305.29,221.04 305.82,220.66 306.34,220.28 306.86,219.89 307.38,219.49 307.90,219.09 308.42,218.68 308.94,218.27 309.46,217.85 309.99,217.43 310.51,216.99 311.03,216.56 311.55,216.11" stroke="#1010ff" stroke-width="1.45" stroke-dasharray="4.2 1.8"/>
<path d="M161.40 229.93 H311.55" stroke="#ff0018" stroke-width="1.4"/>
</g>
</g>
</svg>
</body></html>
